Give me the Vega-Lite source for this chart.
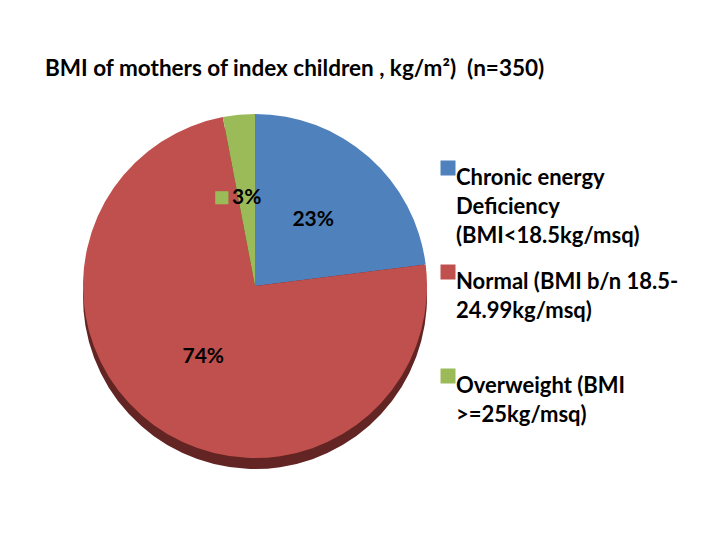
{
  "$schema": "https://vega.github.io/schema/vega-lite/v6.json",
  "width": 340,
  "height": 340,
  "padding": {"left": 45, "top": 57, "right": 5, "bottom": 5},
  "background": "white",
  "config": {
    "style": {"guide-label": {"lineHeight": 29}}
  },
  "title": {
    "text": "BMI of mothers of index children , kg/m²)\u00a0\u00a0(n=350)",
    "font": "Lato",
    "fontSize": 22.5,
    "fontWeight": "bold",
    "color": "black",
    "anchor": "start",
    "dx": -38,
    "offset": 34
  },
  "data": {
    "values": [
      {"category": "Chronic energy|Deficiency|(BMI<18.5kg/msq)", "pct": 23, "label": "23%", "order": 1},
      {"category": "Normal (BMI b/n 18.5-|24.99kg/msq)| ", "pct": 74, "label": "74%", "order": 2},
      {"category": "Overweight (BMI|>=25kg/msq)", "pct": 3, "label": "3%", "order": 3}
    ]
  },
  "encoding": {
    "theta": {"field": "pct", "type": "quantitative", "stack": true},
    "order": {"field": "order", "type": "ordinal"}
  },
  "layer": [
    {
      "mark": {"type": "arc", "outerRadius": 172, "yOffset": 11},
      "encoding": {"color": {"value": "#632523"}}
    },
    {
      "mark": {"type": "arc", "outerRadius": 172},
      "encoding": {
        "color": {
          "field": "category",
          "type": "nominal",
          "scale": {
            "domain": ["Chronic energy|Deficiency|(BMI<18.5kg/msq)", "Normal (BMI b/n 18.5-|24.99kg/msq)| ", "Overweight (BMI|>=25kg/msq)"],
            "range": ["#4F81BD", "#C0504D", "#9BBB59"]
          },
          "legend": {
            "title": null,
            "orient": "none",
            "legendX": 352,
            "legendY": 41,
            "symbolType": "square",
            "symbolSize": 225,
            "symbolStrokeWidth": 0,
            "labelFont": "Lato",
            "labelFontSize": 22,
            "labelFontWeight": "bold",
            "labelColor": "black",
            "labelBaseline": "top",
            "labelLimit": 400,
            "labelOffset": -3,
            "rowPadding": 14,
            "labelExpr": "split(datum.label, '|')"
          }
        }
      }
    },
    {
      "mark": {"type": "text", "radius": 88, "font": "Lato", "fontSize": 21, "fontWeight": "bold", "color": "black"},
      "encoding": {"text": {"field": "label"}}
    },
    {
      "mark": {"type": "text", "radius": 88, "dx": -25, "fontSize": 27, "color": "#9BBB59"},
      "encoding": {
        "text": {"condition": {"test": "datum.order == 3", "value": "■"}, "value": ""}
      }
    }
  ]
}
